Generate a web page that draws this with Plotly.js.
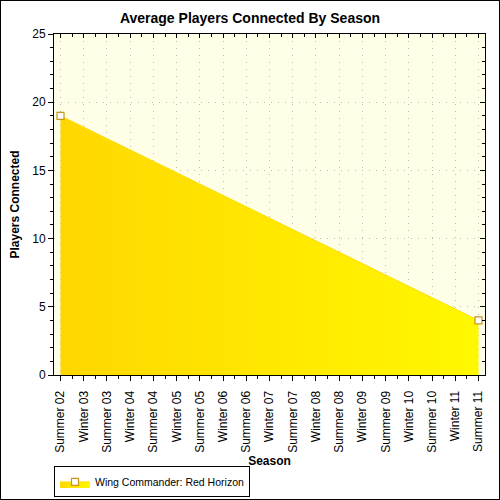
<!DOCTYPE html>
<html><head><meta charset="utf-8">
<script src="https://cdn.plot.ly/plotly-3.0.1.min.js"></script>
<style>html,body{margin:0;padding:0;background:#fff}
#frame{position:absolute;left:0;top:0;width:500px;height:500px;box-sizing:border-box;border:1px solid #000}
#chart{width:498px;height:498px}</style></head>
<body><div id="frame"><div id="chart"></div></div>
<script>
const seasons = ['Summer 02','Winter 03','Summer 03','Winter 04','Summer 04','Winter 05','Summer 05','Winter 06','Summer 06','Winter 07','Summer 07','Winter 08','Summer 08','Winter 09','Summer 09','Winter 10','Summer 10','Winter 11','Summer 11'];
const pointSeasons = ['Summer 02','Summer 11'];
const players = [19, 4];
const seriesName = 'Wing Commander: Red Horizon';
const chartTitle = 'Average Players Connected By Season';
const xTitle = 'Season';
const yTitle = 'Players Connected';

const idx = seasons.map((s,i)=>i);
const px = pointSeasons.map(s=>seasons.indexOf(s));
const F = '"Liberation Sans", Arial, sans-serif';
const xr = [-0.28, 18.28];
const yr = [0, 25];

const traces = [{
  x: px, y: players, name: seriesName, type: 'scatter', mode: 'lines+markers',
  fill: 'tozeroy',
  fillgradient: {type: 'horizontal', colorscale: [[0,'#FFD700'],[1,'#FFF800']]},
  line: {color: '#FFDD00', width: 1},
  marker: {symbol: 'square', size: 7, color: '#FFFFFF', line: {color: '#C8961E', width: 1.2}},
  hoverinfo: 'x+y'
},{
  x: [], y: [], xaxis: 'x2', yaxis: 'y2', showlegend: false, hoverinfo: 'skip', type: 'scatter'
}];

const layout = {
  width: 498, height: 498,
  margin: {l: 53, r: 14, t: 33, b: 124, autoexpand: false},
  paper_bgcolor: '#FFFFFF', plot_bgcolor: '#FFFFE8',
  font: {family: F, color: '#000', size: 12},
  title: {text: '<b>' + chartTitle + '</b>', font: {family: F, size: 14, color: '#000'}, x: 0.5, xanchor: 'center', y: 0.966, yanchor: 'middle'},
  showlegend: true,
  legend: {orientation: 'v', x: 0, xanchor: 'left', y: -0.359, yanchor: 'bottom', bordercolor: '#000', borderwidth: 1, bgcolor: 'rgba(255,255,255,0)', font: {family: F, size: 10.5, color: '#000'}},
  xaxis: {
    type: 'linear', range: xr, tickmode: 'array', tickvals: idx, ticktext: seasons, automargin: false,
    tickangle: -90, ticks: 'outside', ticklen: 5, tickcolor: '#000', tickfont: {family: F, size: 12, color: '#000'}, ticklabelstandoff: 5,
    showline: true, linecolor: '#000', linewidth: 1,
    showgrid: true, gridcolor: '#BBBBBB', griddash: '1px,6px', gridwidth: 1, zeroline: false,
    minor: {tick0: 0.5, dtick: 1, ticks: 'outside', ticklen: 3, tickcolor: '#000', showgrid: false},
    title: {text: '<b>' + xTitle + '</b>', font: {family: F, size: 12, color: '#000'}, standoff: 4},
    fixedrange: true
  },
  yaxis: {
    range: yr, dtick: 5, tick0: 0, ticks: 'outside', ticklen: 5, tickcolor: '#000', tickfont: {family: F, size: 12, color: '#000'}, automargin: false,
    showline: true, linecolor: '#000', linewidth: 1,
    showgrid: true, gridcolor: '#BBBBBB', griddash: '1px,6px', gridwidth: 1, zeroline: false,
    minor: {dtick: 1, ticks: 'outside', ticklen: 3, tickcolor: '#000', showgrid: false},
    title: {text: '<b>' + yTitle + '</b>', font: {family: F, size: 12, color: '#000'}, standoff: 10},
    fixedrange: true
  },
  xaxis2: {
    overlaying: 'x', side: 'top', anchor: 'y2', range: xr, type: 'linear', dtick: 1, tick0: 0,
    ticks: 'inside', ticklen: 4, tickcolor: '#000', showticklabels: false, showgrid: false, zeroline: false,
    showline: true, linecolor: '#000', linewidth: 1,
    minor: {tick0: 0.5, dtick: 1, ticks: 'inside', ticklen: 3, tickcolor: '#000', showgrid: false},
    fixedrange: true
  },
  yaxis2: {
    overlaying: 'y', side: 'right', anchor: 'x2', range: yr, dtick: 5, tick0: 0,
    ticks: 'inside', ticklen: 5, tickcolor: '#000', showticklabels: false, showgrid: false, zeroline: false,
    showline: true, linecolor: '#000', linewidth: 1,
    minor: {dtick: 1, ticks: 'inside', ticklen: 3, tickcolor: '#000', showgrid: false},
    fixedrange: true
  }
};

Plotly.newPlot('chart', traces, layout, {displayModeBar: false, staticPlot: true});
</script></body></html>
